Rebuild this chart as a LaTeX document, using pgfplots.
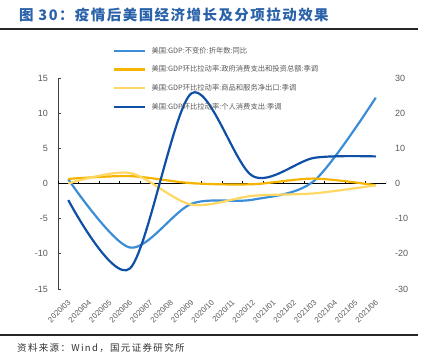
\documentclass[border=0pt]{standalone}
\usepackage{pgfplots}
\pgfplotsset{compat=1.18}
\usepackage{fontspec}
\setmainfont{Liberation Sans}
\newfontfamily\cjk{Noto Sans CJK SC}
\newfontfamily\cjktitle{Noto Sans CJK SC}[LetterSpace=10]
\newfontfamily\cjksrc{Noto Sans CJK SC}[LetterSpace=14]
\definecolor{gdpblue}{HTML}{3C8DD8}
\definecolor{govgold}{HTML}{F5B400}
\definecolor{nxyellow}{HTML}{FFD763}
\definecolor{pcedark}{HTML}{0F4FA6}
\definecolor{titleblue}{HTML}{2A62AA}
\definecolor{labgray}{HTML}{595959}

\pgfplotstableread{
x gdp
0 0.6
3 -9.1
6 -2.9
9 -2.3
12 0.4
15 12.2
}\gdptab
\pgfplotstableread{
x gov nx pce
0 1.3 0.0 -4.7
3 2.1 3.0 -24.2
6 0.1 -6.0 25.6
9 -0.2 -3.5 2.1
12 1.4 -2.8 7.3
15 -0.5 -0.5 7.7
}\contab

\begin{document}
\begin{tikzpicture}[x=1pt,y=1pt]
\useasboundingbox (0,0) rectangle (446,354);
\node[anchor=west, text=titleblue, font=\cjktitle\bfseries\fontsize{14.5}{16}\selectfont, inner sep=0pt] at (19,339) {图 30：疫情后美国经济增长及分项拉动效果};
\draw[line width=1.6pt, black!85] (0,325) -- (418,325);
\draw[line width=1.6pt, black!85] (0,19) -- (418,19);
\node[anchor=west, font=\cjksrc\fontsize{9.5}{11}\selectfont, text=black!80, inner sep=0pt] at (17,6) {资料来源：Wind，国元证券研究所};

\begin{axis}[
  at={(58pt,65pt)}, anchor=south west,
  scale only axis, width=328pt, height=211pt,
  xmin=-0.5, xmax=15.5, ymin=-15, ymax=15,
  axis y line*=left, axis x line*=bottom,
  x axis line style={draw=none},
  y axis line style={draw=black!75, line width=0.8pt},
  xtick={0,...,15},
  xticklabels={2020/03,2020/04,2020/05,2020/06,2020/07,2020/08,2020/09,2020/10,2020/11,2020/12,2021/01,2021/02,2021/03,2021/04,2021/05,2021/06},
  xtick style={draw=none},
  xticklabel style={xshift=1pt, yshift=-12pt, rotate=45, anchor=east, inner sep=0pt, font=\fontsize{7.8}{9}\selectfont, text=labgray},
  ytick={-15,-10,...,15},
  ytick style={draw=black!75, line width=0.8pt},
  tick align=inside, major tick length=3pt,
  yticklabel style={inner sep=0pt, xshift=-10pt, font=\fontsize{9}{10}\selectfont, text=labgray},
  /pgf/number format/assume math mode=true,
]
\draw[black, line width=0.9pt] (axis cs:-0.5,0) -- (axis cs:15.5,0);
\pgfplotsinvokeforeach{-0.5,0.5,1.5,2.5,3.5,4.5,5.5,6.5,7.5,8.5,9.5,10.5,11.5,12.5,13.5,14.5,15.5}{
  \draw[black, line width=0.7pt] (axis cs:#1,0) -- ++(0pt,2.5pt);
}
\addplot[gdpblue, line width=2.2pt, smooth, no markers] table[x=x, y=gdp] {\gdptab};
\end{axis}

\begin{axis}[
  at={(58pt,65pt)}, anchor=south west,
  scale only axis, width=328pt, height=211pt,
  xmin=-0.5, xmax=15.5, ymin=-30, ymax=30,
  axis y line*=right, axis x line=none,
  y axis line style={draw=none},
  ytick={-30,-20,...,30},
  major tick length=0pt,
  yticklabel style={inner sep=0pt, xshift=9pt, font=\fontsize{9}{10}\selectfont, text=labgray},
  /pgf/number format/assume math mode=true,
  legend cell align=left,
  legend image code/.code={\draw[#1, line width=2.2pt] (0pt,0pt) -- (31pt,0pt);},
  legend style={at={(0.168,1.153)}, anchor=north west, draw=none, fill=none,
    inner sep=0pt, row sep=9.1pt,
    font=\cjk\fontsize{7.3}{8}\selectfont, text=labgray,
    nodes={inner sep=1pt}, /tikz/every odd column/.append style={column sep=4pt}},
]
\addlegendimage{gdpblue}
\addlegendentry{美国:GDP:不变价:折年数:同比}
\addplot[govgold, line width=2.2pt, smooth, no markers] table[x=x, y=gov] {\contab};
\addlegendentry{美国:GDP环比拉动率:政府消费支出和投资总额:季调}
\addplot[nxyellow, line width=2.2pt, smooth, no markers] table[x=x, y=nx] {\contab};
\addlegendentry{美国:GDP环比拉动率:商品和服务净出口:季调}
\addplot[pcedark, line width=2.2pt, smooth, no markers] table[x=x, y=pce] {\contab};
\addlegendentry{美国:GDP环比拉动率:个人消费支出:季调}
\end{axis}
\end{tikzpicture}
\end{document}
